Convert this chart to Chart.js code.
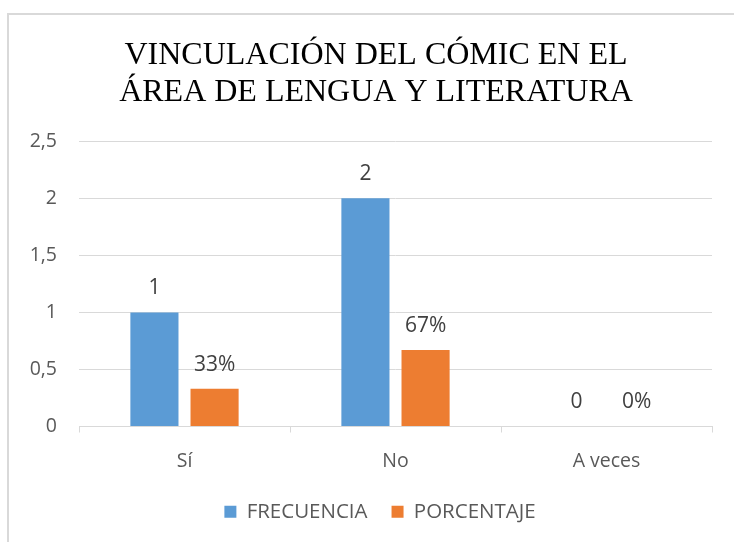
<!DOCTYPE html>
<html><head><meta charset="utf-8">
<script src="https://cdn.jsdelivr.net/npm/chart.js@4/dist/chart.umd.min.js"></script>
<style>
html,body{margin:0;padding:0;background:#fff;width:734px;height:542px;overflow:hidden}
#frame{position:absolute;left:7px;top:13px;width:900px;height:700px;border-top:2px solid #d9d9d9;border-left:2px solid #d9d9d9}
#wrap{position:absolute;left:0;top:0;width:734px;height:542px}
</style></head><body>
<div id="frame"></div>
<div id="wrap"><canvas id="c" width="734" height="542"></canvas></div>
<script>
const categories = ["Sí", "No", "A veces"];
const frecuencia = [1, 2, 0];
const porcentaje = [0.33, 0.67, 0];
const titleLines = ["VINCULACIÓN DEL CÓMIC EN EL", "ÁREA DE LENGUA Y LITERATURA"];
const yTicks = [0, 0.5, 1, 1.5, 2, 2.5];

const FONT = '"Open Sans", sans-serif';

const labelPlugin = {
  id: 'barLabels',
  afterLayout(chart) {
    if (chart.titleBlock) { chart.titleBlock.left = 40; }
    if (chart.legend) { chart.legend.left = 48; chart.legend.top -= 3; }
  },
  afterDatasetsDraw(chart) {
    const ctx = chart.ctx;
    ctx.save();
    ctx.font = '21px ' + FONT;
    ctx.fillStyle = '#404040';
    ctx.textAlign = 'center';
    ctx.textBaseline = 'middle';
    chart.data.datasets.forEach((ds, i) => {
      const meta = chart.getDatasetMeta(i);
      meta.data.forEach((el, j) => {
        const v = ds.data[j];
        const txt = i === 0 ? String(v) : Math.round(v * 100) + '%';
        ctx.fillText(txt, el.x, el.y - 24);
      });
    });
    ctx.restore();
  }
};

new Chart(document.getElementById('c'), {
  type: 'bar',
  data: {
    labels: categories,
    datasets: [
      { label: 'FRECUENCIA', data: frecuencia, backgroundColor: '#5b9bd5', barPercentage: 0.8, categoryPercentage: 0.57 },
      { label: 'PORCENTAJE', data: porcentaje, backgroundColor: '#ed7d31', barPercentage: 0.8, categoryPercentage: 0.57 }
    ]
  },
  options: {
    responsive: false,
    animation: false,
    layout: { padding: { left: 0, right: 22, top: 0, bottom: 7 } },
    plugins: {
      tooltip: { enabled: false },
      title: {
        display: true,
        text: titleLines,
        color: '#000',
        font: { family: '"Liberation Serif", "Times New Roman", serif', size: 32, weight: 'normal', lineHeight: 1.16 },
        padding: { top: 37, bottom: 30 }
      },
      legend: {
        position: 'bottom',
        labels: {
          color: '#595959',
          font: { family: FONT, size: 20.5 },
          boxWidth: 12, boxHeight: 12, padding: 24
        }
      }
    },
    scales: {
      x: {
        afterFit(scale) { scale.height = 54; },
        grid: { display: true, drawOnChartArea: false, drawTicks: true, tickLength: 6, color: '#d9d9d9', offset: true },
        border: { display: true, color: '#d9d9d9', width: 1 },
        ticks: { color: '#595959', font: { family: FONT, size: 19.5 }, padding: 17 }
      },
      y: {
        min: 0, max: 2.5,
        afterBuildTicks(scale) { scale.ticks = yTicks.map(v => ({ value: v })); },
        afterFit(scale) { scale.width = 79; },
        grid: { color: '#d9d9d9', drawTicks: false, lineWidth: 1 },
        border: { display: false },
        ticks: {
          color: '#595959', font: { family: FONT, size: 19.5 }, padding: 22,
          callback: v => String(v).replace('.', ',')
        }
      }
    }
  },
  plugins: [labelPlugin]
});
</script>
</body></html>
